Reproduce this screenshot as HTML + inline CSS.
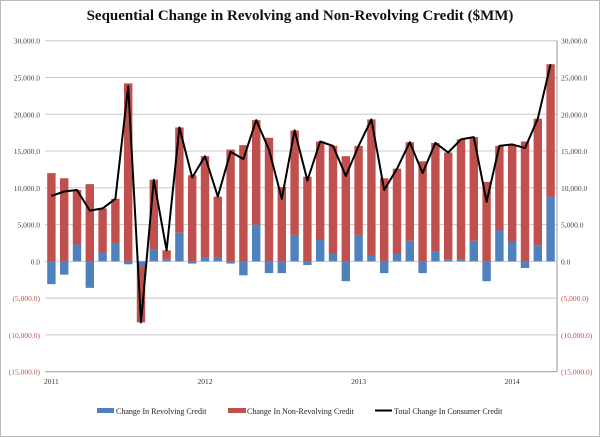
<!DOCTYPE html>
<html><head><meta charset="utf-8"><style>
body{margin:0;background:#fff;}
#wrap{position:relative;width:600px;height:437px;overflow:hidden;}
svg{position:absolute;left:0;top:0;font-family:"Liberation Serif",serif;}
</style></head><body>
<div id="wrap">
<svg id="chart" width="600" height="437">
<rect x="0.5" y="0.5" width="599" height="436" fill="#fff" stroke="#bbb"/>
<text x="300" y="20" text-anchor="middle" font-size="15" font-weight="bold" fill="#111">Sequential Change in Revolving and Non-Revolving Credit ($MM)</text>
<g id="grid"></g><g id="bars"></g><g id="line"></g><g id="axes"></g>
<g>
<rect x="97" y="408" width="17" height="5" fill="#4f81bd"/>
<text x="116" y="414" font-size="8" fill="#222">Change In Revolving Credit</text>
<rect x="228" y="408" width="18" height="5" fill="#c0504d"/>
<text x="247" y="414" font-size="8" fill="#222">Change In Non-Revolving Credit</text>
<line x1="375" y1="410.5" x2="392" y2="410.5" stroke="#000" stroke-width="2"/>
<text x="394" y="414" font-size="8" fill="#222">Total Change In Consumer Credit</text>
</g>
</svg></div>
<script>
const revolving=[-3.1,-1.8,2.3,-3.6,1.2,2.5,-0.4,-0.7,1.6,0.3,3.9,-0.3,0.5,0.6,-0.3,-1.9,5.0,-1.6,-1.6,3.6,-0.5,2.9,1.0,-2.7,3.6,0.8,-1.6,1.0,2.8,-1.6,1.4,0.3,0.2,2.8,-2.7,4.2,2.7,-0.9,2.2,8.8];
const nonRevolving=[12.0,11.3,7.4,10.5,6.0,6.0,24.2,-7.6,9.5,1.2,14.3,11.7,13.8,8.2,15.2,15.8,14.2,16.8,10.1,14.2,11.5,13.4,14.7,14.3,12.1,18.5,11.3,11.6,13.4,13.6,14.7,14.5,16.4,14.1,10.8,11.5,13.2,16.3,17.2,18.0];
const yTicks=[30000,25000,20000,15000,10000,5000,0,-5000,-10000,-15000];
const yearLabels=["2011","2012","2013","2014"];
const yearIndex=[0,12,24,36];
const NS="http://www.w3.org/2000/svg";
const L=45,R=557,T=40.7,B=371.7,n=revolving.length,slot=(R-L)/n,bw=8.4;
function y(v){return T+(30000-v)/45000*(B-T);}
function x(i){return L+slot*(i+0.5);}
function mk(tag,attrs,parent){const e=document.createElementNS(NS,tag);for(const k in attrs)e.setAttribute(k,attrs[k]);parent.appendChild(e);return e;}
function fmt(v){const s=Math.abs(v).toLocaleString('en-US')+".0";return v<0?"("+s+")":s;}
const grid=document.getElementById('grid'),axes=document.getElementById('axes'),bars=document.getElementById('bars'),lineG=document.getElementById('line');
yTicks.forEach(t=>{
  const g=mk('line',{x1:L,x2:R,y1:y(t),y2:y(t),stroke:t===-15000?'#999':'#c8c8c8','stroke-width':1},grid);
  
  
  const col=t<0?'#c0504d':'#444';
  const a=mk('text',{x:40,y:y(t)+3,'text-anchor':'end','font-size':7.5,fill:col},axes);a.textContent=fmt(t);
  
  
  const b=mk('text',{x:561,y:y(t)+3,'font-size':7.5,fill:col},axes);b.textContent=fmt(t);
  
  
});
const ax=mk('line',{x1:R,x2:R,y1:T,y2:B,stroke:'#999'},axes);


yearLabels.forEach((lab,k)=>{
  const t=mk('text',{x:x(yearIndex[k]),y:384,'text-anchor':'middle','font-size':7.5,fill:'#333'},axes);t.textContent=lab;
  
  
});
const pts=[];
for(let i=0;i<n;i++){
  const r=revolving[i]*1000,nr=nonRevolving[i]*1000;
  const b1=mk('rect',{x:x(i)-bw/2,y:Math.min(y(0),y(r)),width:bw,height:Math.abs(y(r)-y(0)),fill:'#4f81bd'},bars);
  
  
  const base=(r>0&&nr>0)||(r<0&&nr<0)?r:0;
  const b2=mk('rect',{x:x(i)-bw/2,y:Math.min(y(base),y(base+nr)),width:bw,height:Math.abs(y(base+nr)-y(base)),fill:'#c0504d'},bars);
  
  
  pts.push(x(i).toFixed(1)+","+y(r+nr).toFixed(1));
}
const pl=mk('polyline',{points:pts.join(' '),fill:'none',stroke:'#000','stroke-width':2,'stroke-linejoin':'round'},lineG);


</script></body></html>
